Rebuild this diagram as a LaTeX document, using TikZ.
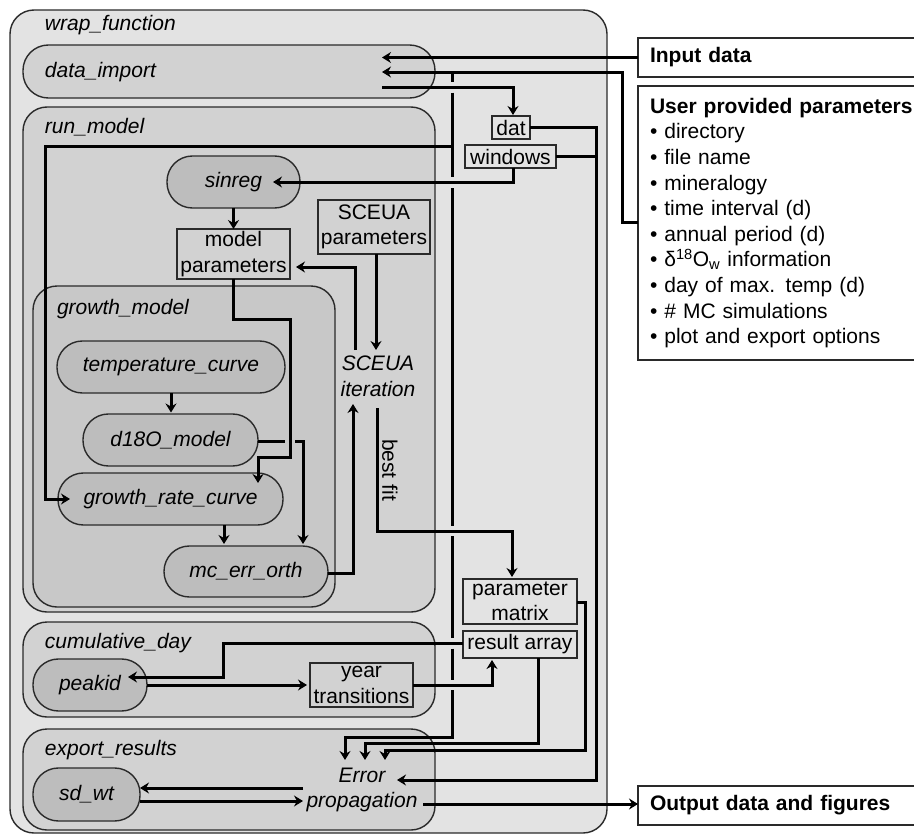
\documentclass[tikz,border=0pt]{standalone}
\usepackage{fontspec}
\setmainfont{Liberation Sans}
\usetikzlibrary{arrows.meta,calc}
\definecolor{c1}{HTML}{E3E3E3}
\definecolor{c2}{HTML}{D2D2D2}
\definecolor{c3}{HTML}{C8C8C8}
\definecolor{cpill}{HTML}{BDBDBD}
\definecolor{bord}{HTML}{2A2A2A}
\newcommand\fsz{\fontsize{21}{25.6}\selectfont}
\begin{document}
\begin{tikzpicture}[x=1pt,y=-1pt,
  every node/.style={font=\fsz, inner sep=0pt, outer sep=0pt},
  cont/.style={draw=bord, line width=1.4pt, rounded corners=24pt, anchor=north west},
  pillA/.style={draw=bord, line width=1.4pt, fill=cpill, rounded corners=25.4pt, font=\fsz\itshape},
  rbox/.style={draw=bord, line width=1.7pt, align=center, font=\fsz},
  lab/.style={anchor=west, font=\fsz\itshape},
  conn/.style={line width=3pt, black},
  arr/.style={conn, -{Stealth[length=9pt,width=11pt,inset=3pt]}},
]
\useasboundingbox (0,0) rectangle (914,835);
\coordinate (busR) at (596,0);

% containers
\node[cont, fill=c1, minimum width=597, minimum height=823] (wrap) at (10,10) {};
\node[pillA, fill=c2, minimum width=412, minimum height=53] (dataimport) at (229,71.5) {};
\node[cont, fill=c2, minimum width=412, minimum height=505] (runmodel) at (23,107) {};
\node[cont, fill=c3, minimum width=302, minimum height=321] (growthmodel) at (33,286) {};
\node[cont, fill=c2, minimum width=412, minimum height=95] (cumday) at (23,622) {};
\node[cont, fill=c2, minimum width=412, minimum height=101] (export) at (23,729) {};

% container labels
\node[lab] (lwrap) at (45,25) {wrap\_function};
\node[lab] (ldata) at (45,72) {data\_import};
\node[lab] (lrun) at (45,127) {run\_model};
\node[lab] (lgrowth) at (57,309) {growth\_model};
\node[lab] (lcum) at (45,643) {cumulative\_day};
\node[lab] (lexp) at (45,750) {export\_results};

% pills
\node[pillA, minimum width=133, minimum height=52] (sinreg) at (233.5,182) {sinreg};
\node[pillA, minimum width=228, minimum height=52] (temp) at (171,367) {temperature\_curve};
\node[pillA, minimum width=175, minimum height=52] (d18o) at (170.5,440) {d18O\_model};
\node[pillA, minimum width=225, minimum height=52] (grc) at (170.5,499) {growth\_rate\_curve};
\node[pillA, minimum width=164, minimum height=51] (mcerr) at (246,571.5) {mc\_err\_orth};
\node[pillA, minimum width=114, minimum height=52] (peakid) at (90,685) {peakid};
\node[pillA, minimum width=107, minimum height=53] (sdwt) at (86.5,794.5) {sd\_wt};

% rectangular boxes
\node[rbox, minimum width=113, minimum height=50] (modpar) at (233.5,254) {model\\parameters};
\node[rbox, minimum width=112, minimum height=54] (scepar) at (374,227) {SCEUA\\parameters};
\node[rbox, minimum width=38, minimum height=23] (dat) at (511,127.5) {dat};
\node[rbox, minimum width=91, minimum height=23] (windows) at (510.5,156.5) {windows};
\node[rbox, minimum width=114, minimum height=45] (parmat) at (520,601.5) {parameter\\matrix};
\node[rbox, minimum width=114, minimum height=27] (resarr) at (520,644.5) {result array};
\node[rbox, minimum width=103, minimum height=44] (yeartr) at (361.5,685) {year\\transitions};

% free text
\node[font=\fsz\itshape, align=center] (sceit) at (378,376.5) {SCEUA\\iteration};
\node[font=\fsz\itshape, align=center] (errprop) at (362,790) {Error\\propagation};
\node[rotate=-90] (bestfit) at (390,470) {best fit};

% external boxes
\node[rbox, anchor=west, minimum width=344, minimum height=39, text width=320, align=left, inner xsep=12pt] (input) at (638,57.5) {\textbf{Input data}};
\node[rbox, anchor=north west, minimum width=344, minimum height=274, text width=320, align=left, inner xsep=12pt] (userpar) at (638,86)
 {\textbf{User provided parameters}\\
  \textbullet\ directory\\
  \textbullet\ file name\\
  \textbullet\ mineralogy\\
  \textbullet\ time interval (d)\\
  \textbullet\ annual period (d)\\
  \textbullet\ δ\textsuperscript{18}O\textsubscript{w} information\\
  \textbullet\ day of max. temp (d)\\
  \textbullet\ \# MC simulations\\
  \textbullet\ plot and export options};
\node[rbox, anchor=west, minimum width=344, minimum height=39, text width=320, align=left, inner xsep=12pt] (output) at (638,805.5) {\textbf{Output data and figures}};

% connectors
\draw[arr] (input.west) -- (382,57.5);
\draw[arr] (638,222) -- (622,222) -- (622,72) -- (382,72);
% vertical bus with gaps
\draw[conn] (452,72) -- (452,82) (452,92.5) -- (452,177) (452,188) -- (452,526) (452,536) -- (452,638) (452,648.5) -- (452,680);
\draw[arr] (452,690) -- (452,737) -- (345,737) -- (345,760);
\draw[arr] (452,146) -- (45,146) -- (45,499) -- (70,499);
% data import -> dat
\draw[arr] (382,87) -- (513,87) -- (513,115);
% dat / windows -> error propagation
\draw[arr] (dat.east) -| (596,780) -- (397,780);
\draw[conn] (windows.east) -- (windows.east -| busR);
% windows -> sinreg
\draw[arr] (513,168) -- (513,182) -- (273,182);
% sinreg -> model parameters
\draw[arr] (sinreg.south) -- (modpar.north);
% model parameters -> growth_rate_curve
\draw[arr] (modpar.south) -- (233.5,319) -- (290,319) -- (290,457) -- (258,457) -- (258,483);
% SCEUA parameters -> SCEUA iteration
\draw[arr] (376,254) -- (376,350);
% SCEUA iteration -> model parameters
\draw[arr] (355,350) -- (355,267) -- (296,267);
% temperature -> d18O
\draw[arr] (temp.south) -- (171,412.5);
% d18O -> mc_err_orth
\draw[conn] (d18o.east |- 0,441) -- (285,441);
\draw[arr] (295,441) -- (303,441) -- (303,544);
% growth_rate_curve -> mc_err_orth
\draw[arr] (224,525) -- (224,544);
% mc_err_orth -> SCEUA iteration
\draw[arr] (mcerr.east |- 0,573) -- (353,573) -- (353,404);
% best fit
\draw[arr] (377,408) -- (377,531) -- (512,531) -- (512,577);
% parameter matrix -> error propagation
\draw[arr] (parmat.east |- 0,602) -- (585,602) -- (585,750) -- (385,750) -- (385,760);
% result array -> error propagation
\draw[arr] (538,658) -- (538,743) -- (365,743) -- (365,760);
% result array -> peakid
\draw[arr] (resarr.west |- 0,643) -- (223,643) -- (223,677) -- (128,677);
% peakid -> year transitions
\draw[arr] (peakid.east) -- (307,685);
% year transitions -> result array
\draw[arr] (yeartr.east) -- (492,685) -- (492,660);
% error propagation <-> sd_wt
\draw[arr] (303,788) -- (140,788);
\draw[arr] (140,801) -- (303,801);
% propagation -> output
\draw[arr] (423,804) -- (output.west |- 0,804);
\end{tikzpicture}
\end{document}
